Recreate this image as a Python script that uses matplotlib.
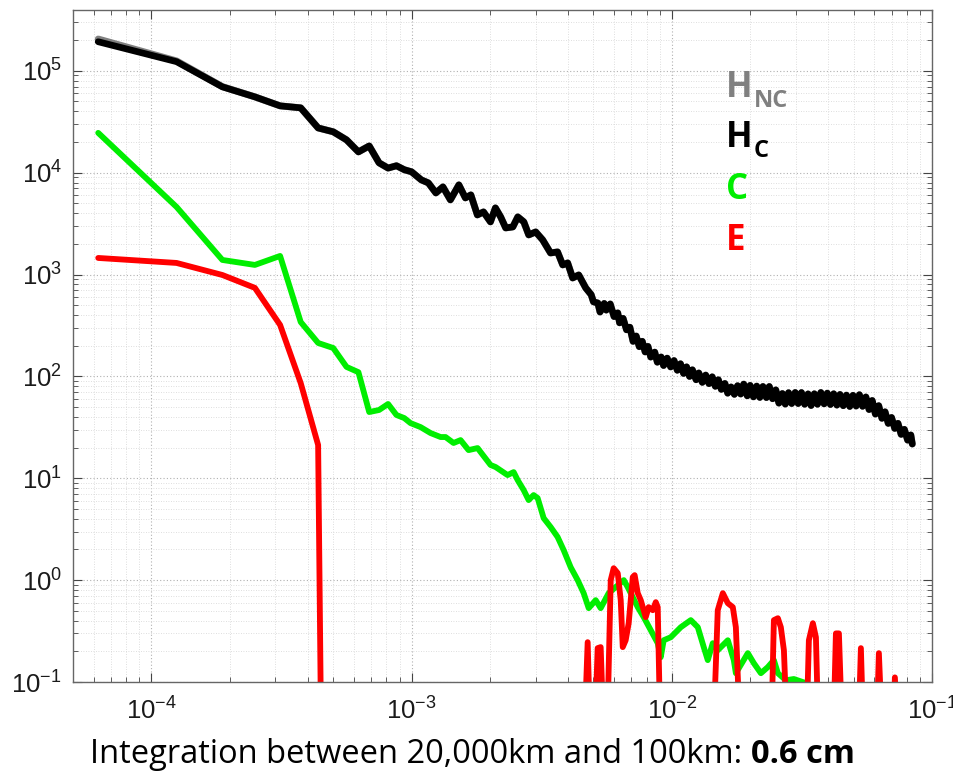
import matplotlib
matplotlib.use("Agg")
import matplotlib.pyplot as plt
from matplotlib.ticker import LogLocator, NullFormatter

plt.rcParams['font.family'] = ['Liberation Sans', 'DejaVu Sans']
plt.rcParams['mathtext.fontset'] = 'custom'
plt.rcParams['mathtext.rm'] = 'Liberation Sans'
plt.rcParams['mathtext.it'] = 'Liberation Sans:italic'
plt.rcParams['mathtext.bf'] = 'Liberation Sans:bold'
plt.rcParams['mathtext.default'] = 'regular'

# ---- wavenumber axis (cycles/km): lowest harmonics ----
k_low = [6.25e-5, 1.25e-4, 1.875e-4, 2.5e-4, 3.125e-4, 3.75e-4, 4.375e-4, 5.0e-4,
         5.625e-4, 6.25e-4, 6.875e-4, 7.5e-4, 8.125e-4, 8.75e-4, 9.375e-4, 1.0e-3]

# ---- H_C spectrum ----
hc_low = [1.93e5, 1.23e5, 6.96e4, 5.55e4, 4.53e4, 4.33e4, 2.75e4, 2.52e4,
          2.10e4, 1.60e4, 1.83e4, 1.25e4, 1.11e4, 1.17e4, 1.07e4, 1.02e4]
hc_mid_k = [1.09e-3, 1.16e-3, 1.24e-3, 1.32e-3, 1.41e-3, 1.52e-3, 1.61e-3, 1.69e-3,
            1.79e-3, 1.89e-3, 2.01e-3, 2.10e-3, 2.20e-3, 2.30e-3, 2.45e-3, 2.56e-3,
            2.70e-3, 2.82e-3, 3.00e-3, 3.19e-3, 3.42e-3, 3.64e-3, 3.81e-3, 3.98e-3,
            4.16e-3, 4.39e-3, 4.67e-3]
hc_mid = [8500, 7940, 6330, 7250, 5410, 7590, 5655, 6050, 3850, 4120, 3290, 4510,
          3680, 2870, 2935, 3680, 3290, 2450, 2620, 2190, 1630, 1667, 1243, 1300,
          926, 991, 739]
hc_hi_k = [0.0049, 0.0050, 0.0052, 0.0053, 0.0055, 0.0056, 0.0058, 0.0060, 0.0062, 0.0063,
           0.0065, 0.0067, 0.0069, 0.0071, 0.0073, 0.0075, 0.0077, 0.0079, 0.0081, 0.0083,
           0.0086, 0.0088, 0.0091, 0.0093, 0.0096, 0.0099, 0.0102, 0.0105, 0.0108, 0.0111,
           0.0114, 0.0117, 0.0120, 0.0124, 0.0127, 0.0131, 0.0135, 0.0139, 0.0143, 0.0147,
           0.0151, 0.0155, 0.0160, 0.0164, 0.0169, 0.0174, 0.0179, 0.0184, 0.0189, 0.0195,
           0.0200, 0.0206, 0.0212, 0.0218, 0.0224, 0.0231, 0.0237, 0.0244, 0.0251, 0.0258,
           0.0266, 0.0273, 0.0281, 0.0289, 0.0298, 0.0306, 0.0315, 0.0324, 0.0334, 0.0343,
           0.0353, 0.0363, 0.0374, 0.0385, 0.0396, 0.0407, 0.0419, 0.0431, 0.0443, 0.0456,
           0.0469, 0.0483, 0.0497, 0.0511, 0.0526, 0.0541, 0.0557, 0.0573, 0.0589, 0.0606,
           0.0624, 0.0642, 0.0660, 0.0679, 0.0699, 0.0719, 0.0740, 0.0761, 0.0783, 0.0806,
           0.0829, 0.0840]
hc_hi = [635, 540, 525, 429, 520, 448, 514, 387, 420, 336,
         371, 287, 304, 221, 249, 196, 221, 174, 197, 155,
         173, 138, 155, 128, 151, 124, 143, 115, 133, 107,
         124, 100, 116, 92.8, 108, 87.5, 103, 85, 99, 80,
         92.6, 74.7, 85.2, 68.5, 78.7, 66.7, 81, 67.2, 84, 64.5,
         81.6, 63, 80.3, 62.2, 79.6, 62, 79.6, 60.4, 73.7, 54.7,
         67.9, 53.5, 69.2, 54.2, 69.5, 54.2, 69.4, 53.3, 67.3, 51.8,
         67.5, 53.3, 69.5, 53.8, 68.5, 53.0, 67.5, 52.3, 66.5, 51.6,
         65.5, 50.7, 65.2, 51.2, 66.1, 50.9, 62.8, 47.3, 58.0, 42.7,
         51.6, 38.8, 44.9, 34.6, 39.5, 30.9, 34.6, 27.0, 30.2, 23.7,
         26.6, 21.7]

# ---- H_NC spectrum (differs from H_C only at the largest scales) ----
hnc_low = [2.05e5, 1.25e5, 7.00e4, 5.55e4, 4.53e4, 4.33e4, 2.75e4, 2.52e4,
           2.10e4, 1.60e4, 1.83e4, 1.25e4, 1.11e4, 1.17e4, 1.07e4, 1.02e4]

# ---- C spectrum ----
c_low = [24600, 4610, 1391, 1243, 1523, 342, 213, 190, 124, 110, 44.7, 46.8, 53.6, 41.8, 39.0]
c_hi_k = [9.91e-4, 1.083e-3, 1.183e-3, 1.293e-3, 1.351e-3, 1.45e-3, 1.543e-3, 1.656e-3,
          1.794e-3, 1.842e-3, 2.012e-3, 2.103e-3, 2.339e-3, 2.468e-3, 2.557e-3, 2.697e-3,
          2.818e-3, 2.945e-3, 3.052e-3, 3.219e-3, 3.424e-3, 3.642e-3, 3.842e-3, 4.087e-3,
          4.349e-3, 4.586e-3, 4.794e-3, 5.10e-3, 5.33e-3, 5.72e-3, 6.54e-3, 6.77e-3,
          7.40e-3, 7.80e-3, 8.30e-3, 8.83e-3, 9.07e-3, 9.31e-3, 9.91e-3, 1.083e-2,
          1.183e-2, 1.259e-2, 1.327e-2, 1.375e-2, 1.437e-2, 1.502e-2, 1.642e-2, 1.731e-2,
          1.763e-2, 1.96e-2, 2.067e-2, 2.20e-2, 2.339e-2, 2.468e-2, 2.557e-2, 2.745e-2,
          2.945e-2, 3.22e-2, 3.58e-2, 5.0e-2, 8.4e-2]
c_hi = [34.8, 31.8, 27.8, 25.4, 25.4, 22.2, 23.7, 18.9, 19.8, 18.1, 13.5, 12.9, 10.75,
        11.5, 9.6, 7.66, 6.11, 6.84, 6.39, 4.06, 3.32, 2.65, 1.97, 1.34, 1.0, 0.745,
        0.531, 0.636, 0.531, 0.745, 1.0, 0.854, 0.543, 0.433, 0.323, 0.2405, 0.175,
        0.257, 0.275, 0.345, 0.405, 0.345, 0.22, 0.164, 0.2405, 0.205, 0.257, 0.164,
        0.122, 0.192, 0.153, 0.122, 0.14, 0.164, 0.122, 0.104, 0.107, 0.099, 0.066,
        0.05, 0.04]

# ---- E spectrum ----
e_low = [1455, 1300, 990, 740, 320, 86, 21.2, 1e-13]
e_hi_k = [4.586e-3, 4.751e-3, 4.88e-3, 5.056e-3, 5.19e-3, 5.33e-3, 5.475e-3, 5.67e-3,
          5.826e-3, 5.98e-3, 6.20e-3, 6.365e-3, 6.48e-3, 6.65e-3, 6.83e-3, 7.08e-3,
          7.20e-3, 7.40e-3, 7.60e-3, 7.94e-3, 8.15e-3, 8.45e-3, 8.68e-3, 8.83e-3,
          9.07e-3, 1.437e-2, 1.502e-2, 1.571e-2, 1.642e-2, 1.716e-2, 1.763e-2, 1.842e-2,
          2.403e-2, 2.468e-2, 2.557e-2, 2.625e-2, 2.697e-2, 2.794e-2, 3.276e-2, 3.364e-2,
          3.485e-2, 3.58e-2, 3.677e-2, 4.16e-2, 4.273e-2, 4.388e-2, 4.546e-2, 5.19e-2,
          5.33e-2, 5.475e-2, 6.09e-2, 6.25e-2, 6.48e-2, 7.08e-2, 7.20e-2, 7.46e-2]
e_hi = [0.02, 0.246, 0.02, 0.03, 0.215, 0.22, 0.03, 0.05, 1.0, 1.31, 1.17, 0.636,
        0.22, 0.257, 0.378, 1.07, 1.12, 0.745, 0.636, 0.433, 0.543, 0.507, 0.608,
        0.543, 0.02, 0.02, 0.507, 0.745, 0.594, 0.543, 0.345, 0.02, 0.02, 0.405,
        0.423, 0.345, 0.205, 0.02, 0.02, 0.257, 0.378, 0.275, 0.02, 0.02, 0.30,
        0.30, 0.02, 0.02, 0.215, 0.02, 0.02, 0.192, 0.02, 0.02, 0.111, 0.02]

series_labels = ["H", "H", "C", "E"]
series_subs = ["NC", "C", "", ""]
series_colors = ["#808080", "#000000", "#00ee00", "#ff0000"]

x_label_plain = "Integration between 20,000km and 100km: "
x_label_bold = "0.6 cm"

W, H = 954, 775
fig = plt.figure(figsize=(W / 100, H / 100), dpi=100)
ax = fig.add_axes([73 / W, 1 - 682 / H, (932 - 73) / W, (682 - 9.5) / H])

line_kw = dict(solid_joinstyle='round', solid_capstyle='round')
hc_k = hc_mid_k + hc_hi_k
ax.plot(k_low + hc_k, hnc_low + hc_mid + hc_hi, color=series_colors[0], lw=5.0, **line_kw)
ax.plot(k_low + hc_k, hc_low + hc_mid + hc_hi, color=series_colors[1], lw=4.8, **line_kw)
ax.plot(k_low[:15] + c_hi_k, c_low + c_hi, color=series_colors[2], lw=4.2, **line_kw)
ax.plot(k_low[:8] + e_hi_k, e_low + e_hi, color=series_colors[3], lw=4.2, **line_kw)

ax.set_xscale('log')
ax.set_yscale('log')
ax.set_xlim(5.0e-5, 1.0e-1)
ax.set_ylim(1.0e-1, 4.0e5)

for axis in (ax.xaxis, ax.yaxis):
    axis.set_major_locator(LogLocator(base=10, numticks=20))
    axis.set_minor_locator(LogLocator(base=10, subs=range(2, 10), numticks=60))
    axis.set_minor_formatter(NullFormatter())

ax.tick_params(which='both', direction='in', top=True, right=True, colors='#444444')
ax.tick_params(which='major', length=6.5, width=0.8, labelsize=18.5, labelcolor='#1a1a1a')
ax.tick_params(which='minor', length=3.5, width=0.6)
ax.tick_params(axis='x', which='major', pad=11)
ax.tick_params(axis='y', which='major', pad=8)

ax.grid(which='major', ls=(0, (1, 2)), color='#b0b0b0', lw=0.8)
ax.grid(which='minor', ls=(0, (1, 2)), color='#d4d4d4', lw=0.6)
ax.set_axisbelow(True)
for sp in ax.spines.values():
    sp.set_color('#666666')
    sp.set_linewidth(1.0)

# series labels, stacked in the upper right
baselines = [97, 147, 199, 250]
for lab, sub, col, yb in zip(series_labels, series_subs, series_colors, baselines):
    t = fig.text(726 / W, 1 - yb / H, lab, family='Open Sans', weight='bold',
                 fontsize=25, color=col, va='baseline', ha='left')
    if sub:
        fig.canvas.draw()
        bb = t.get_window_extent()
        fig.text((bb.x1 + 1) / W, 1 - (yb + 10) / H, sub, family='Open Sans',
                 weight='bold', fontsize=17, color=col, va='baseline', ha='left')

# axis caption: plain part followed by a bold value
fig.canvas.draw()
t1 = fig.text(90 / W, 1 - 763 / H, x_label_plain, family='Open Sans', fontsize=23.5,
              va='baseline', ha='left', color='black')
fig.canvas.draw()
bb1 = t1.get_window_extent()
fig.text(bb1.x1 / W, 1 - 763 / H, x_label_bold, family='Open Sans', fontsize=23.5,
         weight='bold', va='baseline', ha='left', color='black')

fig.savefig("out.png", dpi=100)
